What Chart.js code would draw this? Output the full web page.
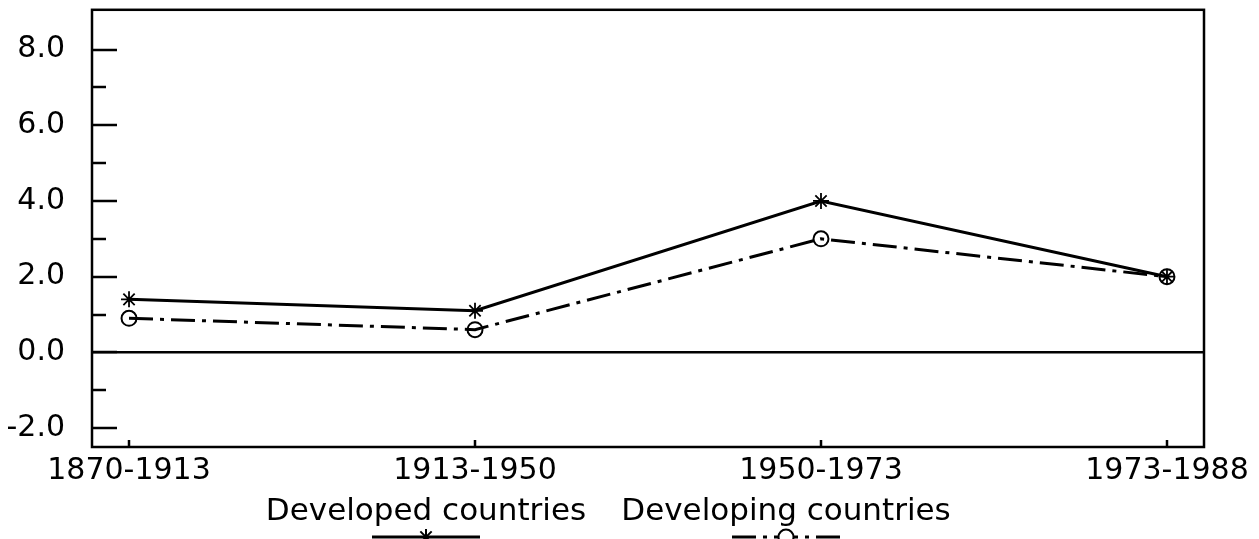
<!DOCTYPE html>
<html>
<head>
<meta charset="utf-8">
<script src="https://cdn.jsdelivr.net/npm/chart.js@4/dist/chart.umd.min.js"></script>
<style>
  html, body { margin: 0; padding: 0; background: #fff; }
  #chart { display: block; }
</style>
</head>
<body>
<canvas id="chart" width="1259" height="539"></canvas>
<script>
// data
var periods = ['1870-1913', '1913-1950', '1950-1973', '1973-1988'];
var developed = [1.4, 1.1, 4.0, 2.0];
var developing = [0.9, 0.6, 3.0, 2.0];
var seriesNames = ['Developed countries', 'Developing countries'];
var yMajorTicks = [-2, 0, 2, 4, 6, 8];

var FONT = "'DejaVu Sans', sans-serif";

function points(values) {
  return values.map(function (v, i) { return { x: i, y: v }; });
}

// frame round the plot, inward ticks on both axes
var framePlugin = {
  id: 'frame',
  afterDatasetsDraw: function (chart) {
    var ctx = chart.ctx, a = chart.chartArea;
    var y = chart.scales.y, x = chart.scales.x;
    ctx.save();
    ctx.strokeStyle = '#000';
    ctx.lineWidth = 2.5;
    ctx.strokeRect(a.left, a.top, a.right - a.left, a.bottom - a.top);
    ctx.beginPath();
    for (var v = -2; v <= 8; v++) {
      var py = Math.round(y.getPixelForValue(v));
      var len = v % 2 === 0 ? 25 : 14;
      ctx.moveTo(a.left, py);
      ctx.lineTo(a.left + len, py);
    }
    periods.forEach(function (p, i) {
      var px = Math.round(x.getPixelForValue(i));
      ctx.moveTo(px, a.bottom);
      ctx.lineTo(px, a.bottom - 7);
    });
    ctx.stroke();
    ctx.restore();
  }
};

// legend: name on top, line sample with marker below
var legendPlugin = {
  id: 'bottomLegend',
  afterDraw: function (chart) {
    var ctx = chart.ctx;
    var centers = [426, 786];
    ctx.save();
    chart.data.datasets.forEach(function (ds, i) {
      var cx = centers[i];
      ctx.fillStyle = '#000';
      ctx.font = '31px ' + FONT;
      ctx.textAlign = 'center';
      ctx.textBaseline = 'alphabetic';
      ctx.fillText(ds.label, cx, 520);
      ctx.strokeStyle = '#000';
      ctx.lineWidth = 3;
      ctx.setLineDash(ds.borderDash || []);
      ctx.beginPath();
      ctx.moveTo(cx - 54, 537);
      ctx.lineTo(cx + 54, 537);
      ctx.stroke();
      ctx.setLineDash([]);
      ctx.lineWidth = 2;
      ctx.fillStyle = '#fff';
      Chart.helpers.drawPoint(ctx, {
        pointStyle: ds.pointStyle,
        radius: ds.pointRadius,
        borderWidth: 2
      }, cx, 537);
    });
    ctx.restore();
  }
};

new Chart(document.getElementById('chart'), {
  type: 'line',
  data: {
    datasets: [{
      label: seriesNames[0],
      data: points(developed),
      borderColor: '#000',
      borderWidth: 3,
      pointStyle: 'star',
      pointRadius: 8,
      pointBorderWidth: 1.8,
      pointBorderColor: '#000',
      pointBackgroundColor: 'rgba(0,0,0,0)',
      tension: 0
    }, {
      label: seriesNames[1],
      data: points(developing),
      borderColor: '#000',
      borderWidth: 3,
      borderDash: [24, 7, 4, 7],
      pointStyle: 'circle',
      pointRadius: 7.5,
      pointBorderWidth: 2,
      pointBorderColor: '#000',
      pointBackgroundColor: 'rgba(0,0,0,0)',
      tension: 0
    }]
  },
  options: {
    responsive: false,
    animation: false,
    devicePixelRatio: 1,
    layout: { padding: { left: 0, right: 55, top: 6, bottom: 0 } },
    plugins: {
      legend: { display: false },
      tooltip: { enabled: false }
    },
    scales: {
      x: {
        type: 'linear',
        min: -0.107,
        max: 3.107,
        afterBuildTicks: function (scale) {
          scale.ticks = periods.map(function (p, i) { return { value: i }; });
        },
        afterFit: function (scale) {
          scale.height = 92;
          scale.paddingLeft = 0;
          scale.paddingRight = 0;
        },
        grid: { display: false, drawTicks: false },
        border: { display: false },
        ticks: {
          padding: 6,
          color: '#000',
          font: { family: FONT, size: 30 },
          maxRotation: 0,
          autoSkip: false,
          callback: function (v) { return periods[v]; }
        }
      },
      y: {
        min: -2.5,
        max: 9.05,
        afterBuildTicks: function (scale) {
          scale.ticks = yMajorTicks.map(function (v) { return { value: v }; });
        },
        afterFit: function (scale) {
          scale.width = 92;
          scale.paddingTop = 0;
          scale.paddingBottom = 0;
        },
        grid: {
          drawTicks: false,
          lineWidth: 2.5,
          color: function (c) { return c.tick && c.tick.value === 0 ? '#000' : 'rgba(0,0,0,0)'; }
        },
        border: { display: false },
        ticks: {
          padding: 27,
          color: '#000',
          font: { family: FONT, size: 30 },
          callback: function (v) { return v.toFixed(1); }
        }
      }
    }
  },
  plugins: [framePlugin, legendPlugin]
});
</script>
</body>
</html>
